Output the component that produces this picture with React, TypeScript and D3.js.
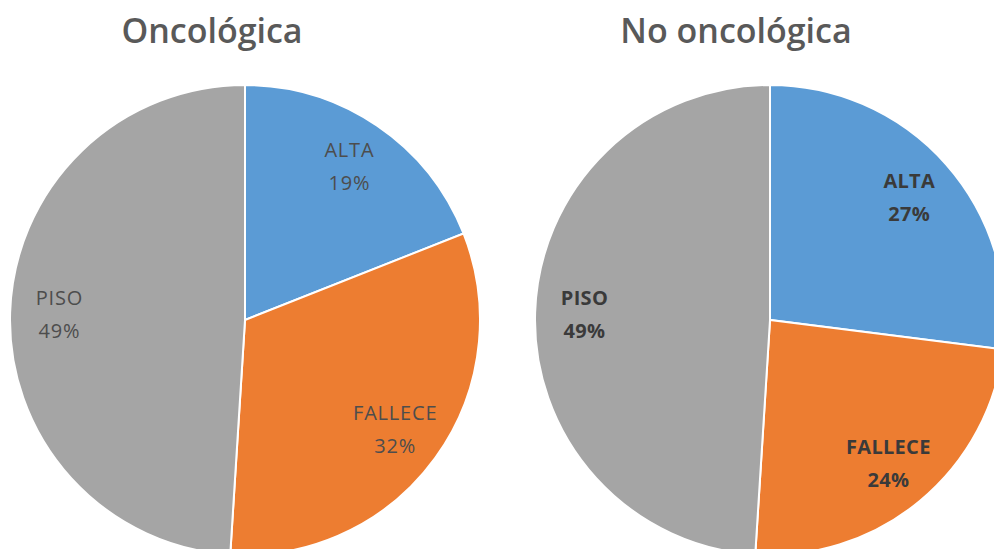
import React, { useEffect, useRef } from "react";
import * as d3 from "d3";

const categories = ["ALTA", "FALLECE", "PISO"];
const oncologica = [19, 32, 49];
const noOncologica = [27, 24, 49];
const titles = ["Oncológica", "No oncológica"];

const colors = ["#5B9BD5", "#ED7D31", "#A5A5A5"];

const App: React.FC = () => {
  const ref = useRef<SVGSVGElement | null>(null);

  useEffect(() => {
    const svg = d3.select(ref.current);
    svg.selectAll("*").remove();

    const width = 994;
    const height = 549;
    svg.attr("width", width).attr("height", height);

    const radius = 235;
    const centers = [
      { x: 245, y: 320 },
      { x: 770, y: 320 },
    ];
    const titlePos = [212, 736];
    const series = [oncologica, noOncologica];

    const color = d3.scaleOrdinal<string>().domain(categories).range(colors);
    const pie = d3
      .pie<number>()
      .sort(null)
      .value((d) => d);
    const arc = d3.arc<d3.PieArcDatum<number>>().innerRadius(0).outerRadius(radius);
    const labelArc = d3
      .arc<d3.PieArcDatum<number>>()
      .innerRadius(radius * 0.79)
      .outerRadius(radius * 0.79);

    series.forEach((values, i) => {
      // Title
      svg
        .append("text")
        .attr("x", titlePos[i])
        .attr("y", 43)
        .attr("text-anchor", "middle")
        .style("font-family", "'Open Sans', sans-serif")
        .style("font-size", "34px")
        .style("font-weight", 600)
        .style("fill", "#595959")
        .text(titles[i]);

      const g = svg
        .append("g")
        .attr("transform", `translate(${centers[i].x},${centers[i].y})`);

      const arcs = pie(values);

      g.selectAll("path")
        .data(arcs)
        .join("path")
        .attr("d", arc)
        .attr("fill", (d, j) => color(categories[j]))
        .attr("stroke", "#fff")
        .attr("stroke-width", 2);

      // Labels
      const bold = i === 1;
      const labels = g
        .selectAll("g.label")
        .data(arcs)
        .join("g")
        .attr("class", "label")
        .attr("transform", (d) => `translate(${labelArc.centroid(d)})`)
        .style("font-family", "'Open Sans', sans-serif")
        .style("font-size", "20px")
        .style("letter-spacing", bold ? "0.3px" : "0.8px")
        .style("font-weight", bold ? 700 : 400)
        .style("fill", bold ? "#3a3a3a" : "#4d4d4d")
        .attr("text-anchor", "middle");

      labels
        .append("text")
        .attr("y", -9)
        .text((d, j) => categories[j]);
      labels
        .append("text")
        .attr("y", 24)
        .text((d) => `${d.data}%`);
    });
  }, []);

  return (
    <div style={{ position: "fixed", left: 0, top: 0, background: "#fff" }}>
      <svg ref={ref} style={{ display: "block" }} />
    </div>
  );
};

export default App;
